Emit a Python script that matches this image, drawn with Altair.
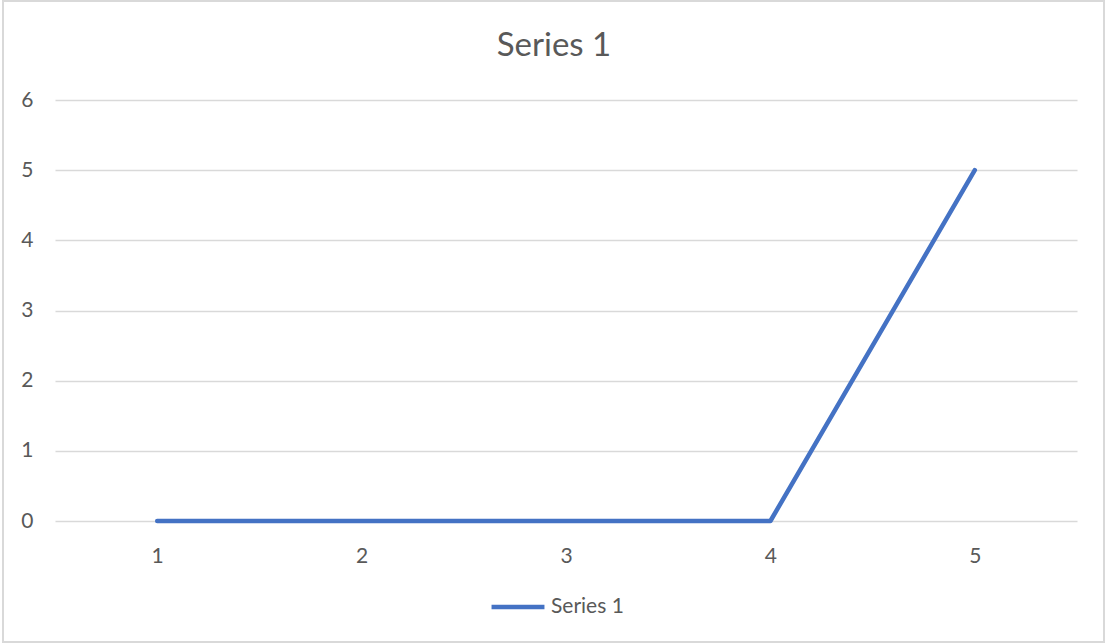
import altair as alt
import pandas as pd

# Category labels and the single series plotted against them
categories = ["1", "2", "3", "4", "5"]
series_name = "Series 1"
values = [0, 0, 0, 0, 5]

df = pd.DataFrame({"category": categories, "value": values, "series": series_name})

FONT = "Lato"
TEXT = "#595959"
GRID = "#d9d9d9"
BLUE = "#4472c4"

W, H = 1022, 421
PAD_L, PAD_T = 55, 100

line = alt.Chart(df).mark_line(
    strokeWidth=4.5, strokeCap="round", strokeJoin="round"
).encode(
    x=alt.X(
        "category:O",
        sort=categories,
        scale=alt.Scale(type="point", padding=0.5),
        axis=alt.Axis(
            title=None, labelAngle=0, ticks=False, domain=False, grid=False,
            labelPadding=24, labelFontSize=21, labelColor=TEXT, labelFont=FONT,
        ),
    ),
    y=alt.Y(
        "value:Q",
        scale=alt.Scale(domain=[0, 6], nice=False),
        axis=alt.Axis(
            title=None, values=[0, 1, 2, 3, 4, 5, 6], ticks=False, domain=False,
            gridColor=GRID, gridWidth=1.5, labelPadding=22, labelFontSize=21,
            labelColor=TEXT, labelFont=FONT,
        ),
    ),
    color=alt.Color(
        "series:N",
        scale=alt.Scale(domain=[series_name], range=[BLUE]),
        legend=alt.Legend(
            title=None, orient="none", legendX=434, legendY=478,
            symbolType="stroke", symbolSize=2800, symbolStrokeWidth=4.5,
            labelFontSize=21, labelColor=TEXT, labelFont=FONT, labelOffset=4,
            padding=0,
        ),
    ),
)

# Outer frame around the whole chart
frame = alt.Chart(df).mark_rect(
    fill=None, stroke=GRID, strokeWidth=1.5
).encode(
    x=alt.value(3 - PAD_L), x2=alt.value(1104 - PAD_L),
    y=alt.value(1 - PAD_T), y2=alt.value(642 - PAD_T),
)

chart = alt.layer(frame, line).properties(
    width=W, height=H,
    background="white",
    title=alt.TitleParams(
        series_name, fontSize=33, font=FONT, color=TEXT, fontWeight="normal",
        anchor="middle", dx=-12, offset=-89, baseline="alphabetic",
    ),
    padding={"left": PAD_L, "top": PAD_T, "right": 1106 - PAD_L - W, "bottom": 643 - PAD_T - H},
    autosize=alt.AutoSizeParams(type="none"),
).configure_view(strokeWidth=0, stroke="transparent")

chart.save("out.html", embed_options={"renderer": "svg", "actions": False})
